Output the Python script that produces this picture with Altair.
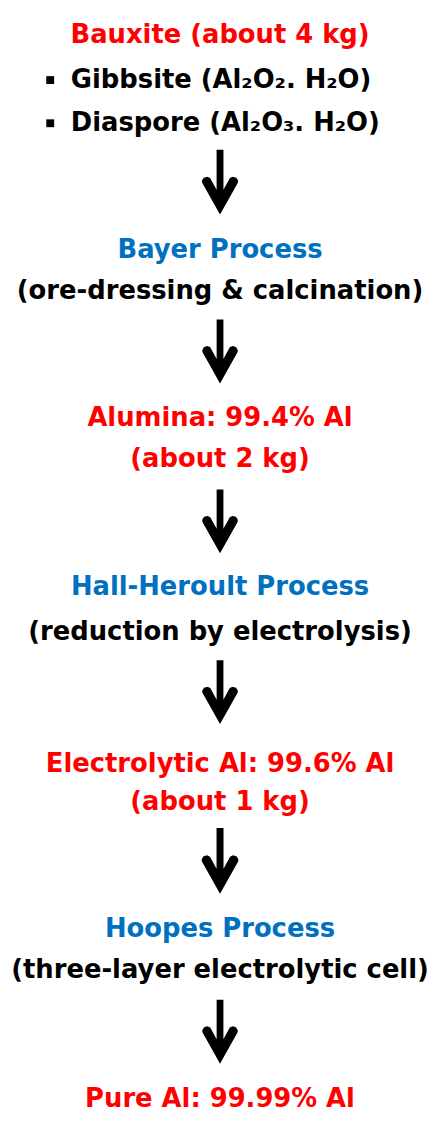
import altair as alt
import pandas as pd

# ---- content ----
center_texts = [
    "Bauxite (about 4 kg)",
    "Bayer Process",
    "(ore-dressing & calcination)",
    "Alumina: 99.4% Al",
    "(about 2 kg)",
    "Hall-Heroult Process",
    "(reduction by electrolysis)",
    "Electrolytic Al: 99.6% Al",
    "(about 1 kg)",
    "Hoopes Process",
    "(three-layer electrolytic cell)",
    "Pure Al: 99.99% Al",
]
center_roles = ["product", "process", "detail", "product", "product", "process",
                "detail", "product", "product", "process", "detail", "product"]
center_baselines = [33, 252, 294, 423, 465, 596, 641, 776, 815, 944, 986, 1117]

bullet_texts = ["Gibbsite (Al\u2082O\u2082. H\u2082O)", "Diaspore (Al\u2082O\u2083. H\u2082O)"]
bullet_baselines = [79, 123]

arrow_tops = [142, 315, 488, 662, 833, 1008]
arrow_tips = [208, 380, 553, 727, 900, 1073]

role_domain = ["product", "process", "detail"]
role_colors = ["#FF0000", "#0070C0", "#000000"]

FONT = "DejaVu Sans"
FS = 26.3
XC = 224
BULLET_X = 51
TEXT_X = 72

# arrow outline in unit coords (-1..1), half-height = 33 px
pts_px = [(-3.5, -33), (3.5, -33), (3.5, 7.8), (10.1, -4.3), (13, -5.6), (16.5, -4.6),
          (18.4, -1.6), (18.2, 0.6), (0, 33), (-18.2, 0.6), (-18.4, -1.6), (-16.5, -4.6),
          (-13, -5.6), (-10.1, -4.3), (-3.5, 7.8)]
arrow_path = "M" + " L".join(f"{x/33:.4f},{y/33:.4f}" for x, y in pts_px) + " Z"

center_df = pd.DataFrame({"text": center_texts, "role": center_roles,
                          "y": center_baselines, "x": XC})
bullet_df = pd.DataFrame({"text": bullet_texts, "y": bullet_baselines,
                          "x": TEXT_X, "bx": BULLET_X})
arrow_df = pd.DataFrame({"top": arrow_tops, "tip": arrow_tips})
arrow_df["mid"] = (arrow_df["top"] + arrow_df["tip"]) / 2
arrow_df["len"] = arrow_df["tip"] - arrow_df["top"]
arrow_df["size"] = arrow_df["len"] ** 2
arrow_df["x"] = XC

xs = alt.Scale(domain=[8, 443])
ys = alt.Scale(domain=[8, 1121], reverse=True)

center_layer = alt.Chart(center_df).mark_text(
    font=FONT, fontSize=FS, fontWeight="bold", align="center", baseline="alphabetic"
).encode(
    x=alt.X("x:Q", scale=xs, axis=None),
    y=alt.Y("y:Q", scale=ys, axis=None),
    text="text:N",
    color=alt.Color("role:N", scale=alt.Scale(domain=role_domain, range=role_colors), legend=None),
)

bullet_text_layer = alt.Chart(bullet_df).mark_text(
    font=FONT, fontSize=FS, fontWeight="bold", align="left", baseline="alphabetic", color="#000000"
).encode(
    x=alt.X("x:Q", scale=xs, axis=None),
    y=alt.Y("y:Q", scale=ys, axis=None),
    text="text:N",
)

bullet_mark_layer = alt.Chart(bullet_df).mark_square(
    filled=True, color="#000000", size=64, opacity=1
).encode(
    x=alt.X("bx:Q", scale=xs, axis=None),
    y=alt.Y("y:Q", scale=ys, axis=None),
    yOffset=alt.value(-8),
)

arrow_layer = alt.Chart(arrow_df).mark_point(
    shape=arrow_path, filled=True, color="#000000", opacity=1, strokeWidth=0
).encode(
    x=alt.X("x:Q", scale=xs, axis=None),
    y=alt.Y("mid:Q", scale=ys, axis=None),
    size=alt.Size("size:Q", scale=None, legend=None),
)

chart = alt.layer(center_layer, bullet_text_layer, bullet_mark_layer, arrow_layer).properties(
    width=435, height=1113, padding=0, background="#FFFFFF",
    autosize=alt.AutoSizeParams(type="none"),
).configure_view(strokeWidth=0)

chart.save("out.html", embed_options={"renderer": "svg", "actions": False})
